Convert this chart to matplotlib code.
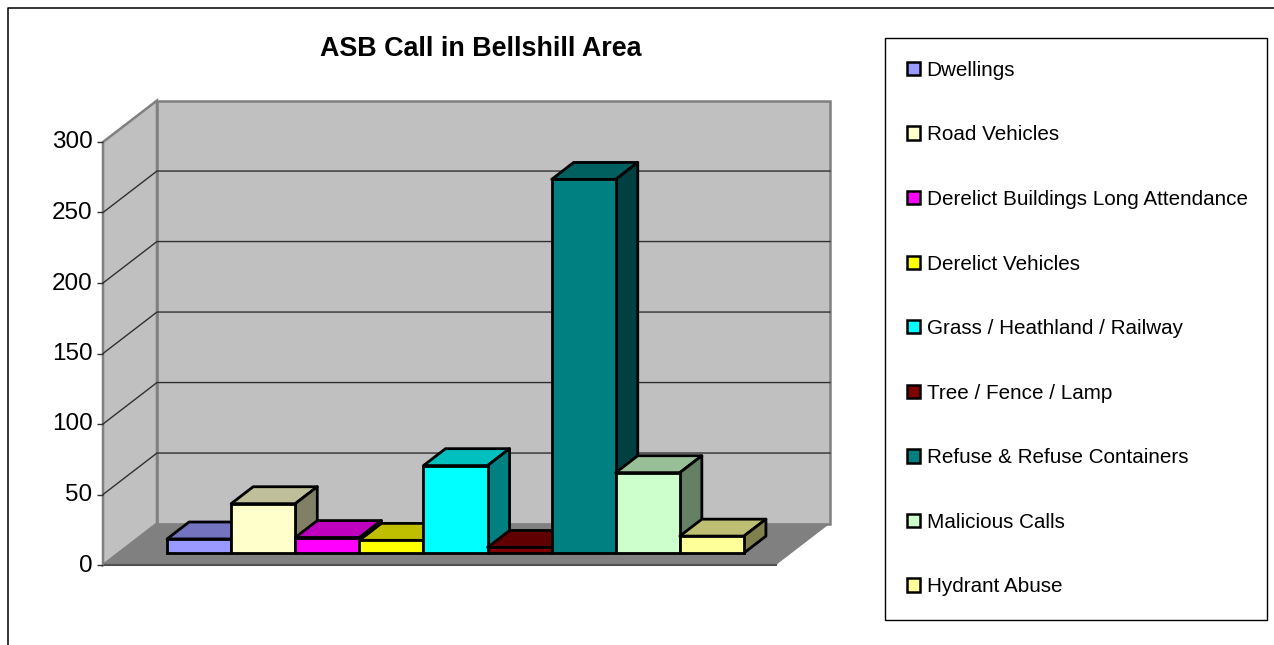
import matplotlib
matplotlib.use("Agg")
import matplotlib.pyplot as plt
from matplotlib.patches import Polygon, Patch, Rectangle
from matplotlib.transforms import ScaledTranslation

plt.rcParams['font.family'] = ['Liberation Sans', 'DejaVu Sans']

categories = ["Dwellings", "Road Vehicles", "Derelict Buildings Long Attendance",
              "Derelict Vehicles", "Grass / Heathland / Railway", "Tree / Fence / Lamp",
              "Refuse & Refuse Containers", "Malicious Calls", "Hydrant Abuse"]
values = [10, 35, 11, 9, 62, 4, 265, 57, 12]
colors = ["#9999FF", "#FFFFCC", "#FF00FF", "#FFFF00", "#00FFFF",
          "#800000", "#008080", "#CCFFCC", "#FFFF99"]
yticks = [0, 50, 100, 150, 200, 250, 300]

W, H = 1274, 645

def shade(c, k):
    r, g, b = matplotlib.colors.to_rgb(c)
    return (r * k, g * k, b * k)

fig = plt.figure(figsize=(W / 100, H / 100), dpi=100)

# outer chart frame, only left and top are visible in the crop
fig.add_artist(plt.Line2D([8 / W, 8 / W, 1], [0, 1 - 8 / H, 1 - 8 / H], color="black", lw=1.1))

# axes = the front plane of the 3d box
ax = fig.add_axes([103 / W, 1 - 565 / H, (776 - 103) / W, (565 - 142) / H])
ax.set_xlim(-1.0, 9.5)
ax.set_ylim(0, 300)
ax.patch.set_visible(False)
for s in ax.spines.values():
    s.set_visible(False)

# depth of the box and the bars, in data units
wall_dx, wall_dy = 0.842, 29.4
bar_dx, bar_dy = 0.343, 12.0
base = 8.5
x0, x1 = -1.0, 9.5
top = yticks[-1]

# walls and floor
ax.add_patch(Polygon([(x0 + wall_dx, wall_dy), (x1 + wall_dx, wall_dy),
                      (x1 + wall_dx, top + wall_dy), (x0 + wall_dx, top + wall_dy)],
                     fc="#C0C0C0", ec="#808080", lw=1.8, clip_on=False, zorder=1))
ax.add_patch(Polygon([(x0, 0), (x0 + wall_dx, wall_dy), (x0 + wall_dx, top + wall_dy), (x0, top)],
                     fc="#C0C0C0", ec="#808080", lw=1.8, clip_on=False, zorder=1))
ax.add_patch(Polygon([(x0, 0), (x1, 0), (x1 + wall_dx, wall_dy), (x0 + wall_dx, wall_dy)],
                     fc="#808080", ec="none", clip_on=False, zorder=2))
ax.plot([x0 + 0.03, x1], [0, 0], color="#505050", lw=1.5, clip_on=False, zorder=2)

# gridlines along side wall and back wall
for t in yticks[1:-1]:
    ax.plot([x0, x0 + wall_dx, x1 + wall_dx], [t, t + wall_dy, t + wall_dy],
            color="#303030", lw=1, clip_on=False, zorder=3)

# bars, left to right so the later ones overlap the earlier
for i, (v, c) in enumerate(zip(values, colors)):
    z = 4 + i
    lw = 2
    ax.add_patch(Polygon([(i, base + v), (i + 1, base + v),
                          (i + 1 + bar_dx, base + v + bar_dy), (i + bar_dx, base + v + bar_dy)],
                         fc=shade(c, 0.75), ec="black", lw=lw, joinstyle="round", clip_on=False, zorder=z))
    ax.add_patch(Polygon([(i + 1, base), (i + 1 + bar_dx, base + bar_dy),
                          (i + 1 + bar_dx, base + v + bar_dy), (i + 1, base + v)],
                         fc=shade(c, 0.5), ec="black", lw=lw, joinstyle="round", clip_on=False, zorder=z))
    ax.bar(i, v, width=1, bottom=base, align="edge", color=c, edgecolor="black", lw=lw,
           clip_on=False, zorder=z)

ax.set_xticks([])
ax.set_yticks(yticks)
ax.tick_params(axis="y", labelsize=17.5, length=4.5, width=1, pad=3, color="#303030")
# tick labels sit a little above their ticks
shift = ScaledTranslation(0, 2 / 100, fig.dpi_scale_trans)
for lab in ax.get_yticklabels():
    lab.set_transform(lab.get_transform() + shift)

fig.text(481 / W, 1 - 48.5 / H, "ASB Call in Bellshill Area", ha="center", va="center",
         fontsize=19.4, fontweight="bold")

# legend box is drawn on its own, its size does not follow the text
fig.add_artist(Rectangle((885 / W, 1 - 620 / H), (1267 - 885) / W, (620 - 38) / H,
                         transform=fig.transFigure, fc="white", ec="black", lw=1))
handles = [Patch(fc=c, ec="black", lw=1.8) for c in colors]
leg = fig.legend(handles, categories, loc="upper left",
                 bbox_to_anchor=(885 / W, 1 - 39 / H), borderaxespad=0,
                 fontsize=14.9, frameon=False,
                 handlelength=0.62, handleheight=0.62, handletextpad=0.33,
                 labelspacing=2.2, borderpad=1.06)

fig.savefig("out.png", dpi=100)
